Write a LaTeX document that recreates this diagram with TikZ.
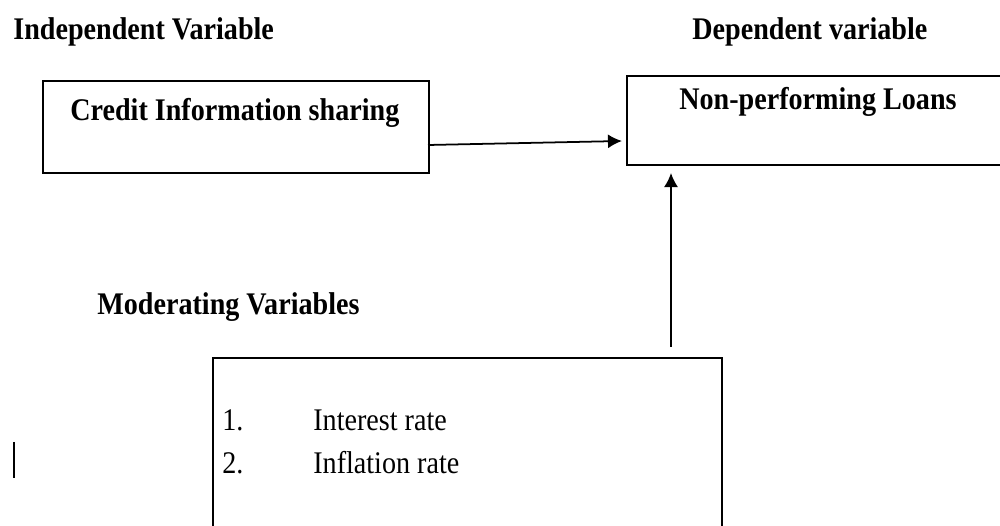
\documentclass[tikz,border=0pt]{standalone}
\usepackage{fontspec}
\setmainfont{Liberation Serif}
\usepackage{tikz}
\usetikzlibrary{arrows.meta}

\newcommand{\tallText}[1]{\scalebox{1}[1.12]{#1}}

\tikzset{
	heading/.style={anchor=base west,inner sep=0pt,font=\fontsize{16}{18}\selectfont\bfseries},
	plain/.style={anchor=base west,inner sep=0pt,font=\fontsize{16}{18}\selectfont},
	varbox/.style={draw,line width=1pt,inner sep=0pt,anchor=north west},
	link/.style={line width=1pt,-{Latex[length=8pt,width=8pt]}}
}

\begin{document}
\begin{tikzpicture}[x=0.02cm,y=-0.02cm]
		\useasboundingbox (0,0) rectangle (1000,526);
%		\draw[help lines] (0,0) grid (1000,526);
		\path (428,145) coordinate (link_start);
		\path (622,141) coordinate (link_end);
		\path (671,347) coordinate (up_start);
		\path (671,173) coordinate (up_end);
		\path (14,442) coordinate (bar_top);
		\path (14,478) coordinate (bar_bottom);

		\node[varbox,minimum width=7.72cm,minimum height=1.84cm] (credit) at (42,80) {};
		\node[varbox,minimum width=7.7cm,minimum height=1.78cm] (npl) at (626,75) {};
		\node[varbox,minimum width=10.18cm,minimum height=3.7cm] (moder) at (212,357) {};

		\node[heading] (indep) at (13,40) {\tallText{Independent Variable}};
		\node[heading] (dep) at (692,40) {\tallText{Dependent variable}};
		\node[heading] (credittext) at (70,121) {\tallText{Credit Information sharing}};
		\node[heading] (npltext) at (679,110) {\tallText{Non-performing Loans}};
		\node[heading] (modtext) at (97,315) {\tallText{Moderating Variables}};
		\node[plain] (num1) at (222,431) {\tallText{1.}};
		\node[plain] (item1) at (313,431) {\tallText{Interest rate}};
		\node[plain] (num2) at (222,473) {\tallText{2.}};
		\node[plain] (item2) at (313,473) {\tallText{Inflation rate}};

		\draw[link] (link_start) -- (link_end);
		\draw[link] (up_start) -- (up_end);
		\draw[line width=0.7pt] (bar_top) -- (bar_bottom);
	\end{tikzpicture}
\end{document}
